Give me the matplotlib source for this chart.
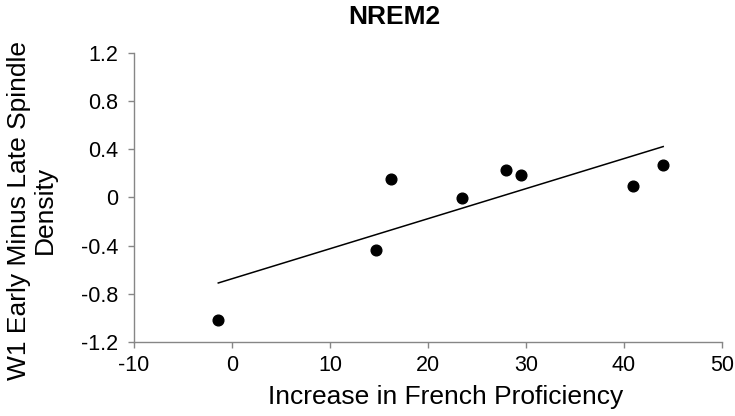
import numpy as np
import matplotlib
matplotlib.use("Agg")
import matplotlib.pyplot as plt

# Data
proficiency_increase = [-1.4, 14.7, 16.2, 23.5, 28.0, 29.5, 40.9, 44.0]
spindle_density_diff = [-1.02, -0.435, 0.148, -0.003, 0.224, 0.185, 0.094, 0.271]

x_ticks = [-10, 0, 10, 20, 30, 40, 50]
y_ticks = [-1.2, -0.8, -0.4, 0, 0.4, 0.8, 1.2]
y_tick_labels = ["-1.2", "-0.8", "-0.4", "0", "0.4", "0.8", "1.2"]

title = "NREM2"
x_label = "Increase in French Proficiency"
y_label = "W1 Early Minus Late Spindle\nDensity"

plt.rcParams['font.family'] = ['Liberation Sans', 'DejaVu Sans']
plt.rcParams['axes.unicode_minus'] = False

W, H = 735, 416
fig = plt.figure(figsize=(W / 100, H / 100), dpi=100)
ax = fig.add_axes([134 / W, 1 - 342 / H, (722 - 134) / W, (342 - 52.6) / H])

ax.plot(proficiency_increase, spindle_density_diff, linestyle='none', marker='o',
        ms=7.7, color='black', zorder=3)

# linear trend line
xs = np.array(proficiency_increase)
ys = np.array(spindle_density_diff)
slope, intercept = np.polyfit(xs, ys, 1)
xl = np.array([xs.min(), xs.max()])
ax.plot(xl, slope * xl + intercept, color='black', lw=1.1, zorder=2)

ax.set_xlim(-10, 50)
ax.set_ylim(-1.2, 1.2)
ax.set_xticks(x_ticks)
ax.set_yticks(y_ticks)
ax.set_yticklabels(y_tick_labels)

for s in ['top', 'right']:
    ax.spines[s].set_visible(False)
for s in ['left', 'bottom']:
    ax.spines[s].set_color('#868686')
    ax.spines[s].set_linewidth(1.0)

ax.tick_params(axis='both', direction='out', length=4.3, width=1.0,
               color='#868686', labelsize=15.5, labelcolor='black')
ax.tick_params(axis='x', pad=5)
ax.tick_params(axis='y', pad=7)

fig.text(394 / W, 1 - 17 / H, title, ha='center', va='center',
         fontsize=19, fontweight='bold')
fig.text(446 / W, 1 - 397 / H, x_label, ha='center', va='center', fontsize=19)
fig.text(32 / W, 1 - 210 / H, y_label, ha='center', va='center', fontsize=19,
         rotation=90, multialignment='center', linespacing=1.1)

fig.savefig('out.png', dpi=100)
